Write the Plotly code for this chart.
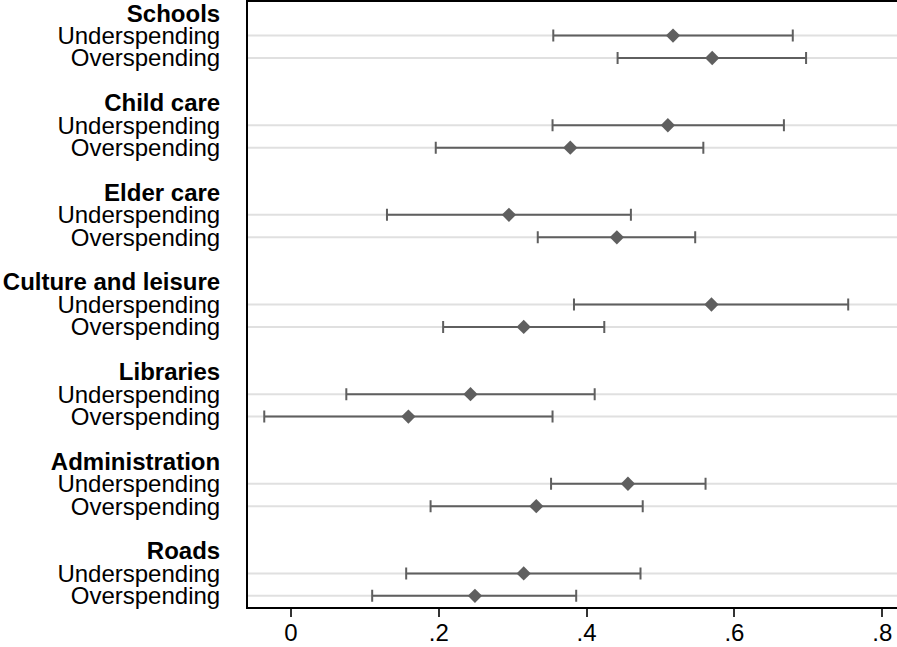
import plotly.graph_objects as go

groups = ["Schools", "Child care", "Elder care", "Culture and leisure",
          "Libraries", "Administration", "Roads"]
row_labels = ["Underspending", "Overspending"]

under_est = [0.517, 0.510, 0.295, 0.569, 0.243, 0.456, 0.315]
under_lo = [0.355, 0.354, 0.130, 0.383, 0.075, 0.352, 0.156]
under_hi = [0.679, 0.667, 0.460, 0.754, 0.411, 0.561, 0.473]

over_est = [0.570, 0.378, 0.441, 0.315, 0.159, 0.332, 0.249]
over_lo = [0.442, 0.196, 0.334, 0.206, -0.036, 0.189, 0.110]
over_hi = [0.697, 0.558, 0.547, 0.424, 0.354, 0.476, 0.386]

x_tickvals = [0, 0.2, 0.4, 0.6, 0.8]
x_ticktext = ["0", ".2", ".4", ".6", ".8"]

GRAY = "#5f5f5f"

# row positions: heading, under, over, blank per group
head_pos = [4 * g for g in range(len(groups))]
under_pos = [4 * g + 1 for g in range(len(groups))]
over_pos = [4 * g + 2 for g in range(len(groups))]

fig = go.Figure()

for est, lo, hi, pos in [(under_est, under_lo, under_hi, under_pos),
                         (over_est, over_lo, over_hi, over_pos)]:
    fig.add_trace(go.Scatter(
        x=est, y=pos, mode="markers",
        marker=dict(symbol="diamond", size=11, color=GRAY, line=dict(width=0)),
        error_x=dict(type="data", symmetric=False,
                     array=[h - e for h, e in zip(hi, est)],
                     arrayminus=[e - l for e, l in zip(est, lo)],
                     color=GRAY, thickness=2, width=6),
        showlegend=False, cliponaxis=False,
    ))

for p in under_pos + over_pos:
    fig.add_shape(type="line", xref="paper", x0=0, x1=1, yref="y", y0=p, y1=p,
                  line=dict(color="#e0e0e0", width=2), layer="below")

tickvals, ticktext = [], []
for g, name in enumerate(groups):
    tickvals += [head_pos[g], under_pos[g], over_pos[g]]
    ticktext += ["<b>" + name + "</b>", row_labels[0], row_labels[1]]

fig.update_layout(
    width=897, height=647,
    margin=dict(l=248, r=0, t=2, b=40),
    plot_bgcolor="white", paper_bgcolor="white",
    font=dict(family="Liberation Sans, Arial, sans-serif", size=24, color="black"),
    xaxis=dict(range=[-0.058, 0.82], tickvals=x_tickvals, ticktext=x_ticktext,
               showgrid=False, zeroline=False, showline=True, linecolor="black",
               linewidth=2, mirror=True, ticks="outside", ticklen=8, tickwidth=1.5,
               tickcolor="#333", tickfont=dict(size=24), automargin=False,
               ticklabeloverflow="allow", ticklabelstandoff=-5),
    yaxis=dict(range=[26.5, -0.5], tickvals=tickvals, ticktext=ticktext,
               showgrid=False, zeroline=False, showline=True, linecolor="black",
               linewidth=2, ticks="", ticklabelstandoff=21,
               tickfont=dict(size=24), automargin=False,
               ticklabeloverflow="allow"),
)

fig.write_html("out.html")
